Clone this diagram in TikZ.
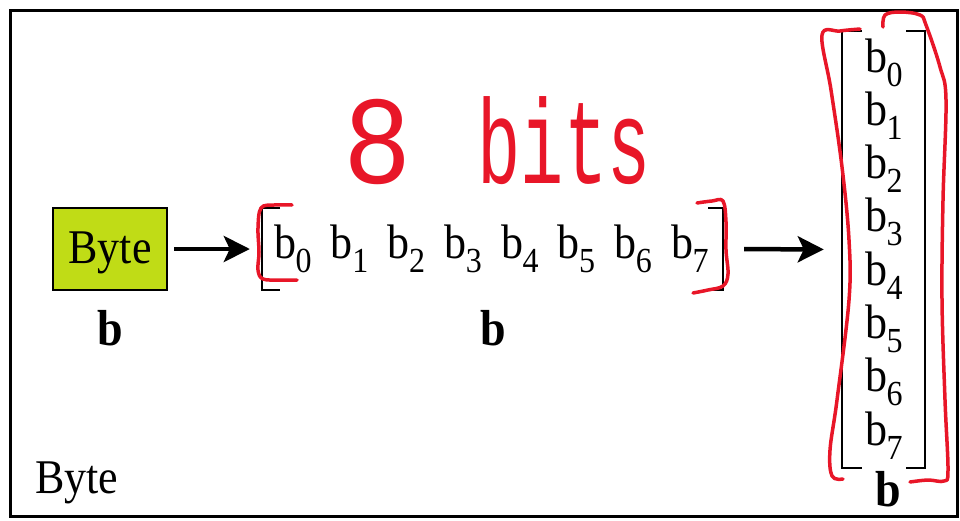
\documentclass[tikz,border=0pt]{standalone}
\usepackage{fontspec}
\setmainfont{Liberation Serif}
\newfontfamily\handfont{Liberation Mono}
\usetikzlibrary{arrows.meta,fit}
\definecolor{bytegreen}{RGB}{192,220,22}
\definecolor{inkred}{RGB}{232,22,40}
\newcommand\tall[1]{\scalebox{1}[1.1]{#1}}
\newcommand\bsub[1]{\tall{b}\kern-0.5pt\raisebox{-14pt}{\fontsize{32}{32}\selectfont\tall{#1}}}
\begin{document}
\begin{tikzpicture}[x=1pt,y=-1pt,
  txt/.style={inner sep=0pt, font=\fontsize{44}{44}\selectfont},
  bld/.style={inner sep=0pt, font=\fontsize{46}{46}\selectfont\bfseries},
  arr/.style={line width=4.5pt, -{Stealth[length=26pt,width=26pt,inset=6pt]}},
  brk/.style={line width=2.5pt},
  ink/.style={draw=inkred, line width=3.5pt, line cap=round, line join=round}]
\useasboundingbox (0,0) rectangle (960,520);
\draw[line width=3pt] (10,10) rectangle (957,516);

% Byte box
\node[draw, line width=2pt, fill=bytegreen, minimum width=114pt, minimum height=82pt,
      inner sep=0pt, text height=32pt, text depth=4pt,
      font=\fontsize{44}{44}\selectfont] (byte) at (110,249) {\tall{Byte}};
\node[bld, anchor=base] (lb1) at (110,345) {\tall{b}};

% horizontal row
\foreach \i in {0,...,7}
  \node[txt, anchor=base west] (h\i) at ({274+56.7*\i},258) {\bsub{\i}};
\draw[brk] (280,208) -- (262,208) -- (262,290) -- (280,290);
\draw[brk] (708,208) -- (723,208) -- (723,290) -- (708,290);
\node[fit={(262,208)(723,290)}, inner sep=0pt] (hb) {};
\node[bld, anchor=base] (lb2) at (493,345) {\tall{b}};

% vertical column
\foreach \i in {0,...,7}
  \node[txt, anchor=base west] (v\i) at (865,{72+53.3*\i}) {\bsub{\i}};
\draw[brk] (862,31) -- (842,31) -- (842,468) -- (862,468);
\draw[brk] (906,31) -- (925,31) -- (925,468) -- (906,468);
\node[fit={(842,31)(925,468)}, inner sep=0pt] (vb) {};
\node[bld, anchor=base] (lb3) at (888,506) {\tall{b}};

% arrows
\draw[arr, shorten <=6pt, shorten >=12pt] (byte.east) -- (hb.west);
\draw[arr, shorten <=21pt, shorten >=18pt] (hb.east) -- (vb.west);

% caption
\node[txt, anchor=base west] (cap) at (35,493) {\tall{Byte}};

% red annotations
\node[text=inkred, inner sep=0pt, anchor=base west,
      font=\handfont\fontsize{120}{120}\selectfont] (bits) at (343,183)
      {\scalebox{0.95}[1.05]{8}\hspace{66pt}\scalebox{0.6}[1]{bits}};
\draw[ink] plot[smooth, tension=0.6] coordinates {(292,205) (274,205) (261,208) (258,228) (259,252) (258,270) (263,279) (280,280) (297,280)};
\draw[ink] plot[smooth, tension=0.6] coordinates {(697,203) (712,201) (723,201) (726,222) (726,250) (728,274) (723,286) (708,290) (693,293)};
\draw[ink] plot[smooth, tension=0.6] coordinates {(860,29) (840,31) (822,35) (831,90) (842,167) (849,240) (849,300) (837,400) (830,450) (832,476) (843,479)};
\draw[ink] plot[smooth, tension=0.6] coordinates {(883,27) (885,15) (900,12) (920,15) (926,25) (940,67) (946,100) (943,200) (942,300) (945,400) (948,470) (944,481) (928,480) (910,482)};
\end{tikzpicture}
\end{document}
